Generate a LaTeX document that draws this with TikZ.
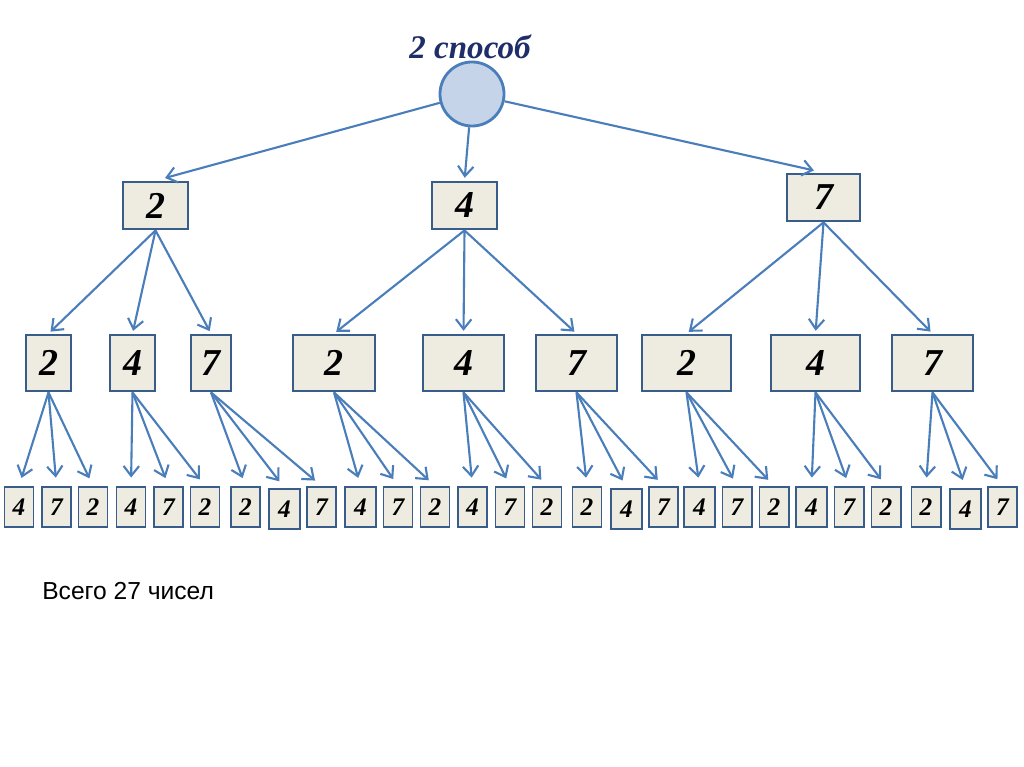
\documentclass[tikz,border=0pt]{standalone}
\usepackage{fontspec}
\setmainfont{Liberation Serif}
\newfontfamily\arialfont{Liberation Sans}
\usetikzlibrary{arrows.meta}

\definecolor{arrowc}{HTML}{4A7EBB}
\definecolor{boxline}{HTML}{385D8A}
\definecolor{boxfill}{HTML}{EEECE1}
\definecolor{rootfill}{HTML}{C6D4EA}
\definecolor{titlec}{HTML}{1F2D69}

\tikzset{
  arr/.style={draw=arrowc, line width=1.5pt, -{Straight Barb[length=7pt,width=11pt]}},
  bigbox/.style={draw=boxline, fill=boxfill, line width=2pt, rectangle, inner sep=0pt,
    font=\fontsize{27}{30}\selectfont\bfseries\itshape},
  leafbox/.style={draw=boxline, fill=boxfill, line width=1.4pt, rectangle, inner sep=0pt,
    minimum width=0.725cm, minimum height=1cm, font=\fontsize{18}{20}\selectfont\bfseries\itshape}
}

\begin{document}
\begin{tikzpicture}[x=0.025cm, y=-0.025cm]
\useasboundingbox[fill=white] (0,0) rectangle (1024,767);

\node[text=titlec, font=\fontsize{23.5}{26}\selectfont\bfseries\itshape] (title) at (470,47) {2 способ};
\node[circle, draw=arrowc, fill=rootfill, line width=2pt, minimum size=1.6cm] (root) at (472,94) {};

% first choice
\node[bigbox, minimum width=1.625cm, minimum height=1.175cm] (n2) at (155.5,205.5) {2};
\node[bigbox, minimum width=1.625cm, minimum height=1.175cm] (n4) at (464.5,205.5) {4};
\node[bigbox, minimum width=1.825cm, minimum height=1.175cm] (n7) at (823.5,197.5) {7};

% second choice
\node[bigbox, minimum width=1.125cm, minimum height=1.4cm] (n22) at (48.5,363) {2};
\node[bigbox, minimum width=1.125cm, minimum height=1.4cm] (n24) at (132.5,363) {4};
\node[bigbox, minimum width=1cm, minimum height=1.4cm] (n27) at (211,363) {7};
\node[bigbox, minimum width=2.05cm, minimum height=1.4cm] (n42) at (334,363) {2};
\node[bigbox, minimum width=2.025cm, minimum height=1.4cm] (n44) at (463.5,363) {4};
\node[bigbox, minimum width=2.025cm, minimum height=1.4cm] (n47) at (576.5,363) {7};
\node[bigbox, minimum width=2.225cm, minimum height=1.4cm] (n72) at (686.5,363) {2};
\node[bigbox, minimum width=2.225cm, minimum height=1.4cm] (n74) at (815.5,363) {4};
\node[bigbox, minimum width=2.025cm, minimum height=1.4cm] (n77) at (932.5,363) {7};

% third choice
\node[leafbox] (n224) at (19,507) {4};
\node[leafbox] (n227) at (56.5,507) {7};
\node[leafbox] (n222) at (93,507) {2};
\node[leafbox] (n244) at (131,507) {4};
\node[leafbox] (n247) at (168.5,507) {7};
\node[leafbox] (n242) at (205,507) {2};
\node[leafbox] (n272) at (245.5,507) {2};
\node[leafbox, minimum width=0.775cm] (n274) at (284.5,509) {4};
\node[leafbox] (n277) at (321.5,507) {7};
\node[leafbox, minimum width=0.775cm] (n424) at (360.5,507) {4};
\node[leafbox] (n427) at (398,507) {7};
\node[leafbox] (n422) at (435,507) {2};
\node[leafbox] (n444) at (472.5,507) {4};
\node[leafbox] (n447) at (510,507) {7};
\node[leafbox] (n442) at (547,507) {2};
\node[leafbox] (n472) at (587,507) {2};
\node[leafbox, minimum width=0.775cm] (n474) at (626.5,509) {4};
\node[leafbox] (n477) at (663.5,507) {7};
\node[leafbox, minimum width=0.775cm] (n724) at (699.5,507) {4};
\node[leafbox] (n727) at (737,507) {7};
\node[leafbox] (n722) at (774,507) {2};
\node[leafbox, minimum width=0.775cm] (n744) at (811.5,507) {4};
\node[leafbox] (n747) at (849,507) {7};
\node[leafbox] (n742) at (886,507) {2};
\node[leafbox] (n772) at (926,507) {2};
\node[leafbox, minimum width=0.775cm] (n774) at (965.5,509) {4};
\node[leafbox] (n777) at (1002.5,507) {7};

\node[anchor=base west, inner sep=0pt, font=\fontsize{17.5}{20}\selectfont\arialfont] (total) at (42,599) {Всего 27 чисел};

\draw[arr, shorten >=7pt] (root) -- (n2.north);
\draw[arr, shorten >=2pt] (root) -- (n4.north);
\draw[arr, shorten >=7pt] (root) -- (n7.north);

\draw[arr, shorten >=2pt] (n2.south) -- (n22.north);
\draw[arr, shorten >=2pt] (n2.south) -- (n24.north);
\draw[arr, shorten >=2pt] (n2.south) -- (n27.north);
\draw[arr, shorten >=2pt] (n4.south) -- (n42.north);
\draw[arr, shorten >=2pt] (n4.south) -- (n44.north);
\draw[arr, shorten >=2pt] (n4.south) -- (n47.north);
\draw[arr, shorten >=2pt] (n7.south) -- (n72.north);
\draw[arr, shorten >=2pt] (n7.south) -- (n74.north);
\draw[arr, shorten >=2pt] (n7.south) -- (n77.north);

\draw[arr, shorten >=6pt] (n22.south) -- (n224.north);
\draw[arr, shorten >=6pt] (n22.south) -- (n227.north);
\draw[arr, shorten >=6pt] (n22.south) -- (n222.north);
\draw[arr, shorten >=6pt] (n24.south) -- (n244.north);
\draw[arr, shorten >=6pt] (n24.south) -- (n247.north);
\draw[arr, shorten >=6pt] (n24.south) -- (n242.north);
\draw[arr, shorten >=6pt] (n27.south) -- (n272.north);
\draw[arr, shorten >=6pt] (n27.south) -- (n274.north);
\draw[arr, shorten >=6pt] (n27.south) -- (n277.north);
\draw[arr, shorten >=6pt] (n42.south) -- (n424.north);
\draw[arr, shorten >=6pt] (n42.south) -- (n427.north);
\draw[arr, shorten >=6pt] (n42.south) -- (n422.north);
\draw[arr, shorten >=6pt] (n44.south) -- (n444.north);
\draw[arr, shorten >=6pt] (n44.south) -- (n447.north);
\draw[arr, shorten >=6pt] (n44.south) -- (n442.north);
\draw[arr, shorten >=6pt] (n47.south) -- (n472.north);
\draw[arr, shorten >=6pt] (n47.south) -- (n474.north);
\draw[arr, shorten >=6pt] (n47.south) -- (n477.north);
\draw[arr, shorten >=6pt] (n72.south) -- (n724.north);
\draw[arr, shorten >=6pt] (n72.south) -- (n727.north);
\draw[arr, shorten >=6pt] (n72.south) -- (n722.north);
\draw[arr, shorten >=6pt] (n74.south) -- (n744.north);
\draw[arr, shorten >=6pt] (n74.south) -- (n747.north);
\draw[arr, shorten >=6pt] (n74.south) -- (n742.north);
\draw[arr, shorten >=6pt] (n77.south) -- (n772.north);
\draw[arr, shorten >=6pt] (n77.south) -- (n774.north);
\draw[arr, shorten >=6pt] (n77.south) -- (n777.north);
\end{tikzpicture}
\end{document}
